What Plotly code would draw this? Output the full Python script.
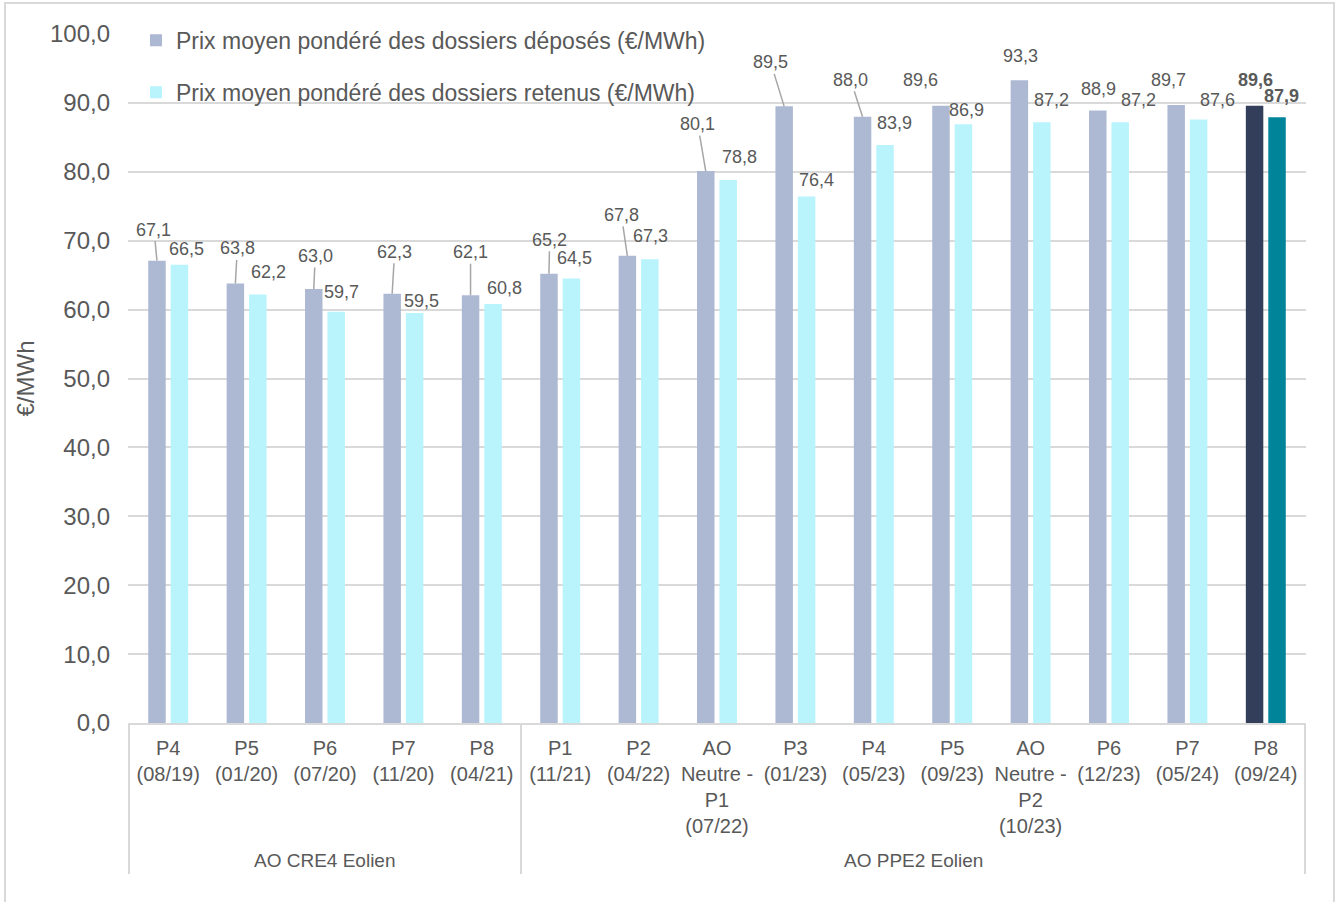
import plotly.graph_objects as go

# ---------------- data ----------------
categories = [
    "P4<br>(08/19)", "P5<br>(01/20)", "P6<br>(07/20)", "P7<br>(11/20)", "P8<br>(04/21)",
    "P1<br>(11/21)", "P2<br>(04/22)", "AO<br>Neutre -<br>P1<br>(07/22)", "P3<br>(01/23)",
    "P4<br>(05/23)", "P5<br>(09/23)", "AO<br>Neutre -<br>P2<br>(10/23)", "P6<br>(12/23)",
    "P7<br>(05/24)", "P8<br>(09/24)",
]
groups = ["AO CRE4 Eolien", "AO PPE2 Eolien"]
group_sizes = [5, 10]
deposes = [67.1, 63.8, 63.0, 62.3, 62.1, 65.2, 67.8, 80.1, 89.5, 88.0, 89.6, 93.3, 88.9, 89.7, 89.6]
retenus = [66.5, 62.2, 59.7, 59.5, 60.8, 64.5, 67.3, 78.8, 76.4, 83.9, 86.9, 87.2, 87.2, 87.6, 87.9]
series_names = ["Prix moyen pondéré des dossiers déposés (€/MWh)",
                "Prix moyen pondéré des dossiers retenus (€/MWh)"]
y_ticks = [0, 10, 20, 30, 40, 50, 60, 70, 80, 90, 100]

# ---------------- style ----------------
TXT = "#595959"
GRID = "#D9D9D9"
FONT = "Liberation Sans, Arial, sans-serif"
c_dep, c_dep_hi = "#ADB9D3", "#333F5A"
c_ret, c_ret_hi = "#B9F4FC", "#00849A"
n = len(categories)
dep_colors = [c_dep] * (n - 1) + [c_dep_hi]
ret_colors = [c_ret] * (n - 1) + [c_ret_hi]
half_slot = 11.25  # px offset of each bar from category center

# label offsets (dx, dy in px from bar top) and whether a leader line is drawn
dep_lbl = [(-3, -31, True), (2, -35, True), (1.5, -33, True), (2.5, -42, True), (0, -43, True),
           (0.7, -34, True), (-6, -41, True), (-8, -47, True), (-13.5, -44, True), (-12, -37, True),
           (-20.5, -26, False), (0.8, -24, False), (1, -21.5, False), (-7.7, -25, False), (1, -26, False)]
ret_lbl = [(7, -16), (11, -22), (5, -20), (7, -12), (11.5, -16), (3, -21), (1, -23), (11.5, -22.6),
           (9.7, -16.6), (9.5, -22.2), (2.8, -14.3), (9.7, -22.5), (18.7, -22.5), (18.8, -19.7), (4, -21)]

fig = go.Figure()
fig.add_trace(go.Bar(x=categories, y=deposes, name=series_names[0], marker_color=dep_colors,
                     marker_line_width=0, legendgroup="a"))
fig.add_trace(go.Bar(x=categories, y=retenus, name=series_names[1], marker_color=ret_colors,
                     marker_line_width=0, legendgroup="b"))


def fmt(v):
    return f"{v:.1f}".replace(".", ",")


annotations = []
for i, cat in enumerate(categories):
    last = i == n - 1
    dx, dy, lead = dep_lbl[i]
    txt = f"<b>{fmt(deposes[i])}</b>" if last else fmt(deposes[i])
    annotations.append(dict(x=cat, y=deposes[i], xref="x", yref="y", xshift=-half_slot,
                            text=txt, showarrow=True, ax=dx, ay=dy, arrowhead=0, standoff=0,
                            arrowwidth=1.5, arrowcolor="#A6A6A6" if lead else "rgba(0,0,0,0)",
                            font=dict(size=18, color=TXT, family=FONT)))
    dx, dy = ret_lbl[i]
    txt = f"<b>{fmt(retenus[i])}</b>" if last else fmt(retenus[i])
    annotations.append(dict(x=cat, y=retenus[i], xref="x", yref="y", xshift=half_slot,
                            text=txt, showarrow=True, ax=dx, ay=dy, arrowhead=0, standoff=0,
                            arrowwidth=1.5, arrowcolor="rgba(0,0,0,0)",
                            font=dict(size=18, color=TXT, family=FONT)))

# group labels and dividers
shapes = []
start = 0
plot_h = 723 - 34
div_bottom = (723 - 874) / plot_h
shapes.append(dict(type="line", xref="x", yref="paper", x0=-0.5, x1=-0.5, y0=0, y1=div_bottom,
                   line=dict(color=GRID, width=2)))
for g, sz in zip(groups, group_sizes):
    mid = start + (sz - 1) / 2
    annotations.append(dict(x=mid, y=(723 - 861) / plot_h, xref="x", yref="paper", text=g,
                            showarrow=False, xanchor="center", yanchor="middle",
                            font=dict(size=19, color=TXT, family=FONT)))
    end = start + sz - 0.5
    shapes.append(dict(type="line", xref="x", yref="paper", x0=end, x1=end, y0=0, y1=div_bottom,
                       line=dict(color=GRID, width=2)))
    start += sz

# outer frame
plot_w = 1306 - 128
shapes.append(dict(type="rect", xref="paper", yref="paper",
                   x0=(5 - 128) / plot_w, x1=(1334 - 128) / plot_w,
                   y0=(723 - 910) / plot_h, y1=(723 - 3) / plot_h,
                   line=dict(color=GRID, width=2), fillcolor="rgba(0,0,0,0)", layer="below"))

fig.update_layout(
    width=1338, height=902,
    margin=dict(l=128, r=32, t=34, b=179),
    paper_bgcolor="white", plot_bgcolor="white",
    separators=", ",
    barmode="group", bargap=0.427, bargroupgap=0.222,
    font=dict(family=FONT, color=TXT),
    showlegend=True,
    legend=dict(x=0.0068, y=1.022, xanchor="left", yanchor="top", bgcolor="rgba(0,0,0,0)",
                font=dict(size=23, color=TXT, family=FONT), tracegroupgap=19,
                traceorder="grouped"),
    annotations=annotations,
    shapes=shapes,
)
fig.update_yaxes(range=[0, 100], tickvals=y_ticks, tickformat=".1f", showgrid=True,
                 gridcolor=GRID, gridwidth=2, zeroline=False, showline=False,
                 tickfont=dict(size=24, color=TXT, family=FONT), ticklabelstandoff=17,
                 title=dict(text="€/MWh", font=dict(size=24, color=TXT, family=FONT), standoff=8))
fig.update_xaxes(type="category", showline=True, linecolor=GRID, linewidth=2, showgrid=False,
                 tickfont=dict(size=20, color=TXT, family=FONT), ticks="", ticklabelstandoff=6)

fig.write_html("out.html")
